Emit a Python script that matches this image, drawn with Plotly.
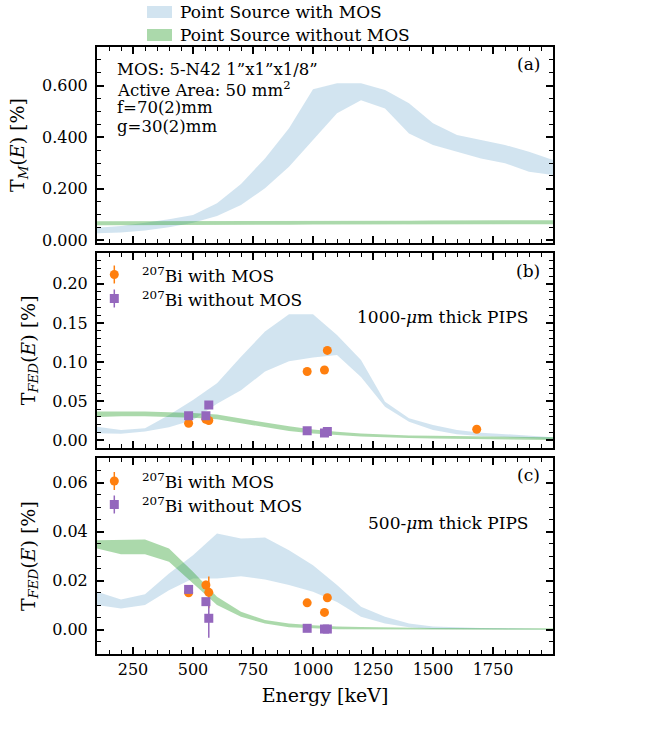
import plotly.graph_objects as go

# ---------------- data ----------------
energy_grid = [100, 200, 300, 400, 500, 600, 700, 800, 900, 1000,
               1100, 1200, 1300, 1400, 1500, 1600, 1700, 1800, 1900, 2000]

# panel (a): T_M(E)
a_mos_upper = [0.049, 0.056, 0.069, 0.082, 0.099, 0.144, 0.219, 0.318, 0.435, 0.586,
               0.609, 0.609, 0.583, 0.532, 0.454, 0.409, 0.389, 0.370, 0.344, 0.312]
a_mos_lower = [0.0275, 0.031, 0.038, 0.051, 0.069, 0.095, 0.137, 0.202, 0.286, 0.389,
               0.493, 0.544, 0.512, 0.415, 0.370, 0.344, 0.318, 0.299, 0.266, 0.254]
a_nomos_upper = [0.074, 0.074, 0.074, 0.074, 0.075, 0.075, 0.075, 0.075, 0.076, 0.076,
                 0.076, 0.076, 0.076, 0.076, 0.077, 0.078, 0.079, 0.078, 0.078, 0.078]
a_nomos_lower = [0.059, 0.059, 0.060, 0.060, 0.060, 0.061, 0.061, 0.061, 0.061, 0.062,
                 0.062, 0.062, 0.062, 0.062, 0.063, 0.063, 0.064, 0.063, 0.063, 0.063]

# panel (b): T_FED(E), 1000 um PIPS
b_mos_upper = [0.0176, 0.0135, 0.0155, 0.0325, 0.0517, 0.073, 0.107, 0.139, 0.161, 0.161,
               0.1346, 0.1027, 0.0495, 0.0283, 0.0198, 0.0134, 0.0100, 0.0079, 0.0057, 0.0041]
b_mos_lower = [0.0092, 0.0085, 0.0113, 0.017, 0.026, 0.047, 0.064, 0.088, 0.101, 0.106,
               0.109, 0.081, 0.043, 0.024, 0.0134, 0.0079, 0.0057, 0.0041, 0.0028, 0.0015]
b_nomos_upper = [0.037, 0.037, 0.037, 0.036, 0.035, 0.033, 0.028, 0.023, 0.018, 0.014,
                 0.011, 0.009, 0.0075, 0.0065, 0.006, 0.0055, 0.005, 0.0045, 0.0042, 0.004]
b_nomos_lower = [0.030, 0.031, 0.031, 0.030, 0.029, 0.027, 0.022, 0.017, 0.012, 0.009,
                 0.007, 0.005, 0.004, 0.003, 0.0025, 0.002, 0.0015, 0.001, 0.0008, 0.0006]

# panel (c): T_FED(E), 500 um PIPS
c_mos_upper = [0.0154, 0.0123, 0.0144, 0.0229, 0.0304, 0.0393, 0.0372, 0.0376, 0.0324, 0.0263,
               0.0182, 0.0093, 0.0052, 0.0025, 0.0012, 0.0008, 0.0006, 0.0005, 0.0004, 0.0004]
c_mos_lower = [0.0100, 0.0086, 0.0100, 0.0161, 0.0209, 0.0209, 0.0218, 0.0205, 0.0182, 0.0154,
               0.0113, 0.0052, 0.0025, 0.0009, 0.0002, 0.0001, 0.0001, 0.0001, 0.0001, 0.0001]
c_nomos_upper = [0.0365, 0.0368, 0.0368, 0.0331, 0.0236, 0.0134, 0.0073, 0.0039, 0.0025, 0.0018,
                 0.0012, 0.0010, 0.0008, 0.0007, 0.0006, 0.0006, 0.0005, 0.0005, 0.0005, 0.0005]
c_nomos_lower = [0.0331, 0.0308, 0.0308, 0.0277, 0.0189, 0.0100, 0.0052, 0.0025, 0.0009, 0.0005,
                 0.0001, 0.0000, -0.0001, -0.0001, -0.0001, -0.0001, -0.0001, -0.0001, -0.0001, -0.0001]

# 207Bi conversion-electron measurements
bi_energy_b_with = [481.7, 553.8, 565.8, 975.7, 1047.8, 1059.8, 1682.2]
b_with = [0.022, 0.027, 0.0255, 0.088, 0.090, 0.115, 0.0143]
b_with_err = [0.001, 0.001, 0.001, 0.0015, 0.0015, 0.004, 0.001]
bi_energy_b_without = [481.7, 553.8, 565.8, 975.7, 1047.8, 1059.8]
b_without = [0.0317, 0.0317, 0.0453, 0.0125, 0.0094, 0.0115]
b_without_err = [0.001, 0.001, 0.001, 0.0008, 0.0008, 0.0008]

bi_energy_c = [481.7, 553.8, 565.8, 975.7, 1047.8, 1059.8]
c_with = [0.0150, 0.0182, 0.0152, 0.0109, 0.0070, 0.0130]
c_with_err = [0.0006, 0.0017, 0.0065, 0.0005, 0.0005, 0.0006]
c_without = [0.0164, 0.0114, 0.0046, 0.0005, 0.0002, 0.0002]
c_without_err = [0.0007, 0.0015, 0.0080, 0.0003, 0.0002, 0.0002]

x_tickvals = [250, 500, 750, 1000, 1250, 1500, 1750]
a_tickvals = [0.0, 0.2, 0.4, 0.6]
a_ticktext = ["0.000", "0.200", "0.400", "0.600"]
b_tickvals = [0.0, 0.05, 0.10, 0.15, 0.20]
b_ticktext = ["0.00", "0.05", "0.10", "0.15", "0.20"]
c_tickvals = [0.0, 0.02, 0.04, 0.06]
c_ticktext = ["0.00", "0.02", "0.04", "0.06"]

band_names = ["Point Source with MOS", "Point Source without MOS"]
point_names = ["<sup>207</sup>Bi with MOS", "<sup>207</sup>Bi without MOS"]

# ---------------- style ----------------
BLUE_FILL = "rgba(31,119,180,0.2)"
GREEN_FILL = "rgba(44,160,44,0.4)"
ORANGE = "#ff7f0e"
PURPLE = "#9467bd"
FONT = "DejaVu Serif"

# plot area in pixels: left 97, right 553, top 47, bottom 654
L, R, T, B = 97, 553, 47, 654


def PX(px):
    return (px - L) / (R - L)


def PY(py):
    return (B - py) / (B - T)


fig = go.Figure()


def band(xa, ya, upper, lower, color):
    fig.add_trace(go.Scatter(
        x=list(energy_grid) + list(energy_grid)[::-1],
        y=list(upper) + list(lower)[::-1],
        fill="toself", fillcolor=color, mode="lines",
        line=dict(width=0, color=color), showlegend=False, hoverinfo="skip",
        xaxis=xa, yaxis=ya))


def points(xa, ya, xs, ys, errs, color, symbol):
    fig.add_trace(go.Scatter(
        x=xs, y=ys, mode="markers", showlegend=False,
        marker=dict(color=color, symbol=symbol, size=9, line=dict(width=0)),
        error_y=dict(type="data", array=errs, color=color, thickness=1.5, width=0),
        xaxis=xa, yaxis=ya))


band("x", "y", a_mos_upper, a_mos_lower, BLUE_FILL)
band("x", "y", a_nomos_upper, a_nomos_lower, GREEN_FILL)
band("x2", "y2", b_mos_upper, b_mos_lower, BLUE_FILL)
band("x2", "y2", b_nomos_upper, b_nomos_lower, GREEN_FILL)
points("x2", "y2", bi_energy_b_with, b_with, b_with_err, ORANGE, "circle")
points("x2", "y2", bi_energy_b_without, b_without, b_without_err, PURPLE, "square")
band("x3", "y3", c_mos_upper, c_mos_lower, BLUE_FILL)
band("x3", "y3", c_nomos_upper, c_nomos_lower, GREEN_FILL)
points("x3", "y3", bi_energy_c, c_with, c_with_err, ORANGE, "circle")
points("x3", "y3", bi_energy_c, c_without, c_without_err, PURPLE, "square")

TICK_FONT = dict(family=FONT, size=16, color="black")
TITLE_FONT = dict(family=FONT, size=19, color="black")
TEXT_FONT = dict(family=FONT, size=17, color="black")
INFO_FONT = dict(family=FONT, size=16.5, color="black")

axis_common = dict(
    showline=True, linewidth=2, linecolor="black", mirror="allticks",
    ticks="inside", ticklen=7, tickwidth=1.5, tickcolor="black",
    showgrid=False, zeroline=False, tickfont=TICK_FONT,
)


def xaxis(anchor, showlabels):
    d = dict(axis_common)
    d.update(range=[100, 2000], tickmode="array", tickvals=x_tickvals,
             showticklabels=showlabels, anchor=anchor,
             minor=dict(tickmode="linear", tick0=0, dtick=50, ticks="inside",
                        ticklen=4, tickwidth=1.2, tickcolor="black"))
    return d


def yaxis(rng, tv, tt, mdt, dom, anchor, title):
    d = dict(axis_common)
    d.update(range=rng, tickmode="array", tickvals=tv, ticktext=tt, domain=dom,
             anchor=anchor, ticklabelstandoff=4,
             minor=dict(tickmode="linear", tick0=0, dtick=mdt, ticks="inside",
                        ticklen=4, tickwidth=1.2, tickcolor="black"),
             title=dict(text=title, font=TITLE_FONT, standoff=12))
    return d


dom_a = [PY(243), 1.0]
dom_b = [PY(448.3), PY(252.5)]
dom_c = [0.0, PY(458.3)]

x3 = xaxis("y3", True)
x3["title"] = dict(text="Energy [keV]", font=TITLE_FONT, standoff=10)

fig.update_layout(
    width=662, height=746,
    margin=dict(l=L, r=662 - R, t=T, b=746 - B),
    paper_bgcolor="white", plot_bgcolor="white",
    font=dict(family=FONT, size=16, color="black"),
    showlegend=False,
    xaxis=xaxis("y", False),
    xaxis2=xaxis("y2", False),
    xaxis3=x3,
    yaxis=yaxis([-0.01, 0.75], a_tickvals, a_ticktext, 0.05, dom_a, "x",
                "T<sub><i>M</i></sub>(<i>E</i>) [%]"),
    yaxis2=yaxis([-0.01, 0.24], b_tickvals, b_ticktext, 0.01, dom_b, "x2",
                 "T<sub><i>FED</i></sub>(<i>E</i>) [%]"),
    yaxis3=yaxis([-0.01, 0.07], c_tickvals, c_ticktext, 0.005, dom_c, "x3",
                 "T<sub><i>FED</i></sub>(<i>E</i>) [%]"),
)

shapes = []
annotations = []

# ---- top legend (bands) ----
for (ytop, ybot, ytxt), color, name in zip([(6, 18, 12.5), (29, 41, 35)],
                                           [BLUE_FILL, GREEN_FILL], band_names):
    shapes.append(dict(type="rect", xref="paper", yref="paper",
                       x0=PX(147), x1=PX(172), y0=PY(ybot), y1=PY(ytop),
                       fillcolor=color, line=dict(width=0)))
    annotations.append(dict(xref="paper", yref="paper", x=PX(178), y=PY(ytxt),
                            xanchor="left", yanchor="middle", showarrow=False,
                            text=name, font=TEXT_FONT))

# ---- point legends in (b) and (c) ----
for y_or, y_pu in [(274.5, 298.5), (481, 504.5)]:
    for yc, color, kind, name in [(y_or, ORANGE, "circle", point_names[0]),
                                  (y_pu, PURPLE, "rect", point_names[1])]:
        shapes.append(dict(type="line", xref="paper", yref="paper",
                           x0=PX(114.3), x1=PX(114.3), y0=PY(yc + 9), y1=PY(yc - 9),
                           line=dict(color=color, width=1.5)))
        shapes.append(dict(type=kind, xref="paper", yref="paper",
                           x0=PX(109.8), x1=PX(118.8), y0=PY(yc + 4.5), y1=PY(yc - 4.5),
                           fillcolor=color, line=dict(width=0)))
        annotations.append(dict(xref="paper", yref="paper", x=PX(140), y=PY(yc),
                                xanchor="left", yanchor="middle", showarrow=False,
                                text=name, font=TEXT_FONT))

# ---- panel (a) info text ----
info_lines = ["MOS: 5-N42 1”x1”x1/8”", "Active Area: 50 mm<sup>2</sup>",
              "f=70(2)mm", "g=30(2)mm"]
for line, yc in zip(info_lines, [69, 88.5, 107.5, 126.5]):
    annotations.append(dict(xref="paper", yref="paper", x=PX(115), y=PY(yc),
                            xanchor="left", yanchor="middle", showarrow=False,
                            text=line, font=INFO_FONT))

# ---- panel labels and detector labels ----
for lab, yc in [("(a)", 64), ("(b)", 270.7), ("(c)", 475)]:
    annotations.append(dict(xref="paper", yref="paper", x=PX(542), y=PY(yc),
                            xanchor="right", yanchor="middle", showarrow=False,
                            text=lab, font=TEXT_FONT))
for lab, yc in [("1000-<i>μ</i>m thick PIPS", 316.7), ("500-<i>μ</i>m thick PIPS", 522.7)]:
    annotations.append(dict(xref="paper", yref="paper", x=PX(529.5), y=PY(yc),
                            xanchor="right", yanchor="middle", showarrow=False,
                            text=lab, font=TEXT_FONT))

fig.update_layout(shapes=shapes, annotations=annotations)

fig.write_html("out.html")
